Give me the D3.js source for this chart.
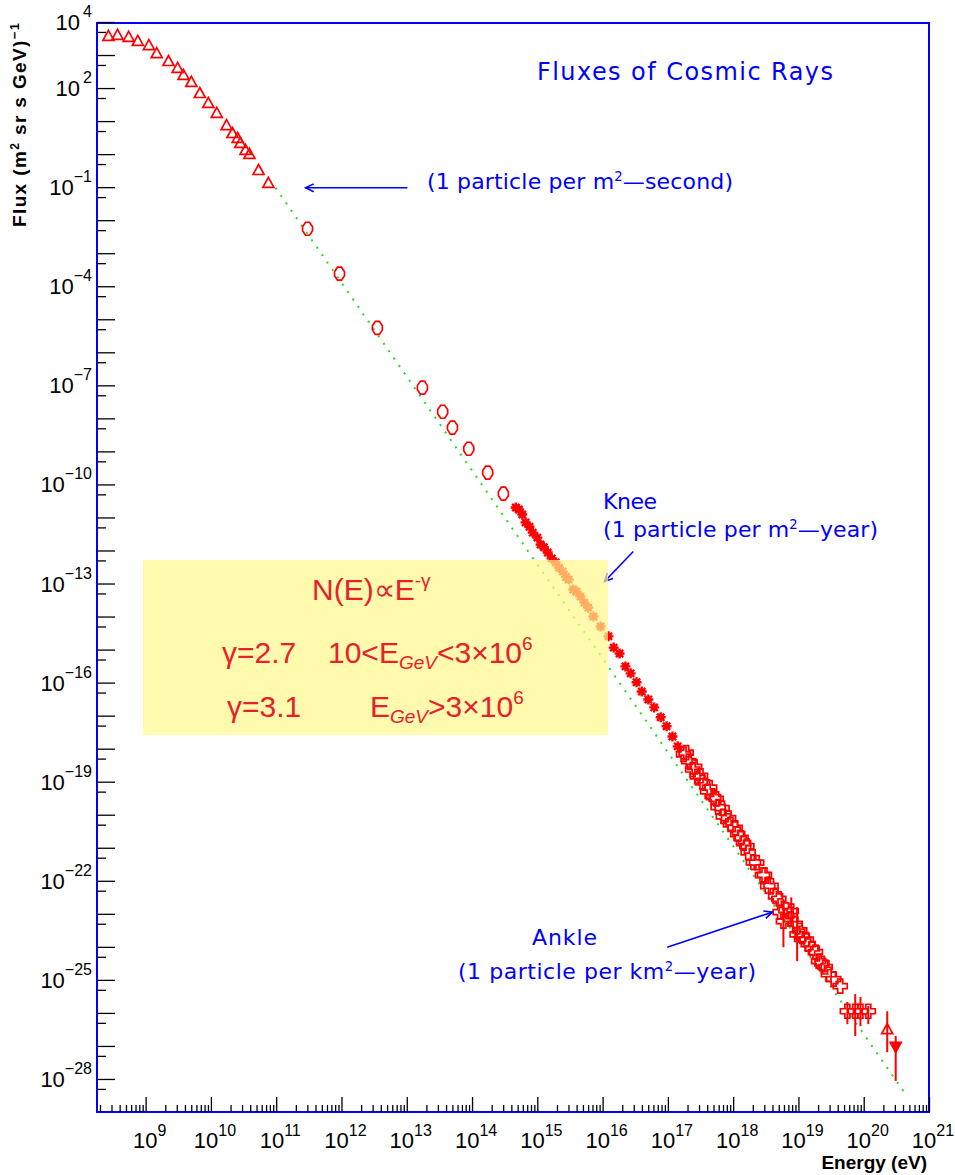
<!DOCTYPE html>
<html lang="en">
<head>
<meta charset="UTF-8">
<title>Fluxes of Cosmic Rays</title>
<script src="https://d3js.org/d3.v7.min.js"></script>
<style>
    body { margin: 0; background: #fff; }
    svg { display: block; font-family: "Liberation Sans", Arial, sans-serif; }
</style>
</head>
<body>
<div id="chart"></div>
<script>
// All values, stored as log10(E / eV) and log10(flux)

// low energy direct measurements (open triangles)
const lowLogE = [8.43, 8.57, 8.74, 8.88, 9.05, 9.17, 9.35, 9.49, 9.58, 9.70, 9.83, 9.96, 10.09, 10.24, 10.33, 10.41, 10.45, 10.53, 10.59, 10.73, 10.88];
const lowLogF = [3.58, 3.61, 3.55, 3.43, 3.30, 3.06, 2.82, 2.61, 2.40, 2.19, 1.85, 1.55, 1.25, 0.88, 0.64, 0.49, 0.34, 0.13, 0.01, -0.48, -0.87];

// balloon / satellite points (open diamonds)
const directLogE = [11.48, 11.97, 12.55, 13.24, 13.55, 13.70, 13.95, 14.24, 14.48];
const directLogF = [-2.26, -3.62, -5.26, -7.07, -7.80, -8.28, -8.92, -9.64, -10.28];

// knee region air showers (filled stars)
const kneeLogE = [14.67, 14.77, 14.82, 14.93, 15.00, 15.05, 15.16, 15.28, 15.39, 15.48, 15.55, 15.66, 15.78, 15.86,
                  15.97, 16.09, 16.17, 16.26, 16.35, 16.43, 16.52, 16.60, 16.70, 16.79, 16.89, 16.98, 17.07, 17.15];
const kneeLogF = [-10.70, -10.91, -11.15, -11.46, -11.61, -11.82, -12.06, -12.36, -12.64, -12.88, -13.18, -13.39, -13.73, -14.00,
                  -14.30, -14.60, -14.94, -15.12, -15.51, -15.72, -15.99, -16.27, -16.51, -16.75, -17.05, -17.32, -17.63, -17.93];
const knee2LogE = [14.72, 14.88, 15.10, 15.22, 15.33, 15.44, 15.60, 15.72];
const knee2LogF = [-10.76, -11.28, -11.90, -12.24, -12.52, -12.80, -13.25, -13.58];

// high energy air showers (open crosses), two overlapping experiments
const highLogE = [17.24, 17.32, 17.38, 17.45, 17.53, 17.61, 17.70, 17.77, 17.85, 17.96, 18.07, 18.16, 18.23, 18.31,
                  18.45, 18.53, 18.65, 18.72, 18.88, 19.06, 19.15, 19.26, 19.31, 19.41, 19.46, 19.54, 19.64];
const highLogF = [-18.17, -18.38, -18.63, -18.84, -19.02, -19.29, -19.47, -19.77, -20.05, -20.29, -20.59, -20.86, -21.14, -21.44,
                  -21.83, -22.16, -22.47, -22.95, -23.16, -23.68, -23.92, -24.16, -24.43, -24.61, -24.83, -24.98, -25.19];
const high2LogE = [17.28, 17.41, 17.50, 17.64, 17.74, 17.83, 17.93, 18.03, 18.12, 18.21, 18.36, 18.48, 18.58, 18.70, 18.81, 18.95, 19.02, 19.12, 19.21, 19.36];
const high2LogF = [-18.12, -18.55, -18.82, -19.18, -19.52, -19.80, -20.10, -20.40, -20.70, -20.95, -21.45, -21.82, -22.15, -22.55, -22.88, -23.30, -23.50, -23.78, -24.05, -24.50];

// points with error bars
const errLogE  = [18.77, 18.89, 18.98, 19.75, 19.87, 19.95, 20.07];
const errLogF  = [-23.22, -22.92, -23.62, -25.95, -25.95, -25.95, -25.95];
const errLo    = [-24.01, -23.37, -24.43, -26.34, -26.70, -26.40, -26.34];
const errHi    = [-22.56, -22.50, -22.80, -25.67, -25.43, -25.52, -25.79];

// highest energy points: open triangle and filled down triangle
const topLogE = [20.36, 20.49];
const topLogF = [-26.49, -27.03];
const topLo   = [-27.19, -28.06];
const topHi   = [-25.95, -26.70];

// power law guide line (green)
const fitLogE = [10.99, 20.64];
const fitLogF = [-1.02, -28.46];

// axis labels (exponents)
const xLabelExp = [9, 10, 11, 12, 13, 14, 15, 16, 17, 18, 19, 20, 21];
const yLabelExp = [4, 2, -1, -4, -7, -10, -13, -16, -19, -22, -25, -28];

const W = 955, H = 1175;
const frame = { left: 97, right: 929, top: 22, bottom: 1112 };
const red = "#ff0000", blue = "#0000ff", green = "#22dd22";

const svg = d3.select("#chart").append("svg")
    .attr("width", W)
    .attr("height", H);
svg.append("rect").attr("width", W).attr("height", H).attr("fill", "#fff");

const x = d3.scaleLog().domain([Math.pow(10, 8.255), 1e21]).range([frame.left, frame.right]);
const y = d3.scaleLog().domain([1e-29, 1e4]).range([frame.bottom, frame.top]);
const px = v => x(Math.pow(10, v));
const py = v => y(Math.pow(10, v));

// frame
svg.append("rect")
    .attr("x", frame.left).attr("y", frame.top + 1)
    .attr("width", frame.right - frame.left).attr("height", frame.bottom - frame.top - 1)
    .attr("fill", "none").attr("stroke", blue).attr("stroke-width", 2);

// ticks (inside the frame)
const majorY = d3.range(-28, 5).map(p => Math.pow(10, p));
const minorY = d3.range(-28, 5).map(p => 5 * Math.pow(10, p - 1));
const majorX = d3.range(9, 22).map(p => Math.pow(10, p));
const minorX = [];
d3.range(8, 21).forEach(p => d3.range(2, 10).forEach(k => {
    const v = k * Math.pow(10, p);
    if (v > x.domain()[0] && v < 1e21) minorX.push(v);
}));

function tickAxis(axis, transform) {
    const g = svg.append("g").attr("transform", transform).call(axis);
    g.select(".domain").remove();
    g.selectAll("line").attr("stroke", "#000").attr("stroke-width", 1.3);
}
tickAxis(d3.axisLeft(y).tickValues(majorY).tickSize(-18).tickFormat(""), `translate(${frame.left},0)`);
tickAxis(d3.axisLeft(y).tickValues(minorY).tickSize(-9).tickFormat(""), `translate(${frame.left},0)`);
tickAxis(d3.axisBottom(x).tickValues(majorX).tickSize(-15).tickFormat(""), `translate(0,${frame.bottom})`);
tickAxis(d3.axisBottom(x).tickValues(minorX).tickSize(-7).tickFormat(""), `translate(0,${frame.bottom})`);

// tick labels with superscript exponents
xLabelExp.forEach(p => {
    const t = svg.append("text")
        .attr("x", x(Math.pow(10, p)) + 4)
        .attr("y", 1148)
        .attr("text-anchor", "middle")
        .attr("font-size", 22);
    t.append("tspan").text("10");
    t.append("tspan").attr("dy", -12).attr("font-size", 16).text(p);
});
yLabelExp.forEach(p => {
    const t = svg.append("text")
        .attr("x", 92)
        .attr("y", y(Math.pow(10, p)) + 8)
        .attr("text-anchor", "end")
        .attr("font-size", 22);
    t.append("tspan").text("10");
    t.append("tspan").attr("dy", -13).attr("dx", p < 0 ? 0 : 3).attr("font-size", 16)
        .text(p < 0 ? "\u2212" + (-p) : p);
});

// axis titles
const yTitle = svg.append("text")
    .attr("transform", "translate(26,23) rotate(-90)")
    .attr("text-anchor", "end")
    .attr("font-size", 19)
    .attr("font-weight", "bold")
    .attr("textLength", 204)
    .attr("lengthAdjust", "spacing");
yTitle.append("tspan").text("Flux (m");
yTitle.append("tspan").attr("dy", -7).attr("font-size", 12).text("2");
yTitle.append("tspan").attr("dy", 7).text(" sr s GeV)");
yTitle.append("tspan").attr("dy", -7).attr("font-size", 13).text("\u22121");

svg.append("text")
    .attr("x", 927).attr("y", 1169)
    .attr("text-anchor", "end")
    .attr("font-size", 19)
    .attr("font-weight", "bold")
    .text("Energy (eV)");

// green power law guide
const fit = fitLogE.map((e, i) => [e, fitLogF[i]]);
svg.append("path")
    .attr("d", d3.line().x(d => px(d[0])).y(d => py(d[1]))(fit))
    .attr("fill", "none")
    .attr("stroke", green)
    .attr("stroke-width", 2)
    .attr("stroke-dasharray", "2,7");

// marker shapes
const shapes = {
    triangle: "M0,-5.5L5.5,4.5L-5.5,4.5Z",
    diamond: "M-2,-6.5L2,-6.5L5,-2L5,2L2,6.5L-2,6.5L-5,2L-5,-2Z",
    star: "M-5,0H5M0,-5V5M-3.6,-3.6L3.6,3.6M-3.6,3.6L3.6,-3.6",
    cross: "M-2.5,-7H2.5V-2.5H7V2.5H2.5V7H-2.5V2.5H-7V-2.5H-2.5Z",
    down: "M-5.5,-4.5L5.5,-4.5L0,5.5Z"
};

function drawMarkers(logE, logF, shape, filled) {
    const pts = logE.map((e, i) => [e, logF[i]]);
    svg.append("g").selectAll("path")
        .data(pts)
        .enter()
        .append("path")
        .attr("transform", d => `translate(${px(d[0])},${py(d[1])})`)
        .attr("d", shapes[shape])
        .attr("fill", filled ? red : "none")
        .attr("stroke", red)
        .attr("stroke-width", shape === "star" ? 2.4 : 1.7);
}

function drawErrors(logE, lo, hi) {
    svg.append("g").selectAll("line")
        .data(logE.map((e, i) => [e, lo[i], hi[i]]))
        .enter()
        .append("line")
        .attr("x1", d => px(d[0])).attr("x2", d => px(d[0]))
        .attr("y1", d => py(d[1])).attr("y2", d => py(d[2]))
        .attr("stroke", red)
        .attr("stroke-width", 2);
}

drawMarkers(lowLogE, lowLogF, "triangle", false);
drawMarkers(directLogE, directLogF, "diamond", false);
drawMarkers(knee2LogE, knee2LogF, "star", true);
drawMarkers(kneeLogE, kneeLogF, "star", true);
drawMarkers(high2LogE, high2LogF, "cross", false);
drawMarkers(highLogE, highLogF, "cross", false);
drawErrors(errLogE, errLo, errHi);
drawMarkers(errLogE, errLogF, "cross", false);
drawErrors(topLogE, topLo, topHi);
drawMarkers([topLogE[0]], [topLogF[0]], "triangle", false);
drawMarkers([topLogE[1]], [topLogF[1]], "down", true);

// annotation arrows (data coordinates)
function arrow(e1, f1, e2, f2) {
    const x1 = px(e1), y1 = py(f1), x2 = px(e2), y2 = py(f2);
    const a = Math.atan2(y2 - y1, x2 - x1);
    const h = 9;
    const g = svg.append("g").attr("stroke", blue).attr("stroke-width", 1.6).attr("fill", "none");
    g.append("line").attr("x1", x1).attr("y1", y1).attr("x2", x2).attr("y2", y2);
    g.append("path").attr("d",
        `M${x2 - h * Math.cos(a - 0.45)},${y2 - h * Math.sin(a - 0.45)}L${x2},${y2}L${x2 - h * Math.cos(a + 0.45)},${y2 - h * Math.sin(a + 0.45)}`);
}
arrow(13.01, -1.02, 11.45, -1.02);
arrow(16.47, -12.03, 16.03, -12.94);
arrow(16.99, -24.01, 18.60, -22.95);

// blue texts
function blueText(xp, yp, size, width, parts) {
    const t = svg.append("text")
        .attr("x", xp).attr("y", yp)
        .attr("fill", blue)
        .attr("font-family", "DejaVu Sans")
        .attr("font-size", size)
        .attr("textLength", width)
        .attr("lengthAdjust", "spacing");
    let raised = false;
    parts.forEach(p => {
        const s = t.append("tspan");
        if (p.sup) {
            s.attr("dy", -8).attr("font-size", size * 0.6).text(p.sup);
            raised = true;
        } else {
            s.text(p.t);
            if (raised) { s.attr("dy", 8); raised = false; }
        }
    });
}
blueText(537, 80, 24, 296, [{ t: "Fluxes of Cosmic Rays" }]);
blueText(427, 189, 22, 306, [{ t: "(1 particle per m" }, { sup: "2" }, { t: "\u2014second)" }]);
blueText(603, 509, 22, 54, [{ t: "Knee" }]);
blueText(603, 537, 22, 275, [{ t: "(1 particle per m" }, { sup: "2" }, { t: "\u2014year)" }]);
blueText(532, 945, 22, 65, [{ t: "Ankle" }]);
blueText(458, 979, 22, 298, [{ t: "(1 particle per km" }, { sup: "2" }, { t: "\u2014year)" }]);

// translucent yellow box with the spectral index note
svg.append("rect")
    .attr("x", 143).attr("y", 560)
    .attr("width", 465).attr("height", 175)
    .attr("fill", "rgb(255,248,140)")
    .attr("opacity", 0.7);

const boxRed = "#e8202a";
function boxText(xp, yp, parts) {
    const t = svg.append("text")
        .attr("x", xp).attr("y", yp)
        .attr("fill", boxRed)
        .attr("font-size", 30);
    parts.forEach(p => {
        const s = t.append("tspan").text(p.t);
        if (p.sub) s.attr("dy", 6).attr("font-size", 19).attr("font-style", "italic");
        if (p.sup) s.attr("dy", -13).attr("font-size", 19);
        if (p.back) s.attr("dy", p.back);
    });
}
boxText(312, 600, [{ t: "N(E)\u221DE" }, { t: "-\u03B3", sup: true }]);
boxText(222, 663, [{ t: "\u03B3=2.7" }]);
boxText(328, 663, [{ t: "10<E" }, { t: "GeV", sub: true }, { t: "<3\u00D710", back: -6 }, { t: "6", sup: true }]);
boxText(227, 717, [{ t: "\u03B3=3.1" }]);
boxText(370, 717, [{ t: "E" }, { t: "GeV", sub: true }, { t: ">3\u00D710", back: -6 }, { t: "6", sup: true }]);
</script>
</body>
</html>
